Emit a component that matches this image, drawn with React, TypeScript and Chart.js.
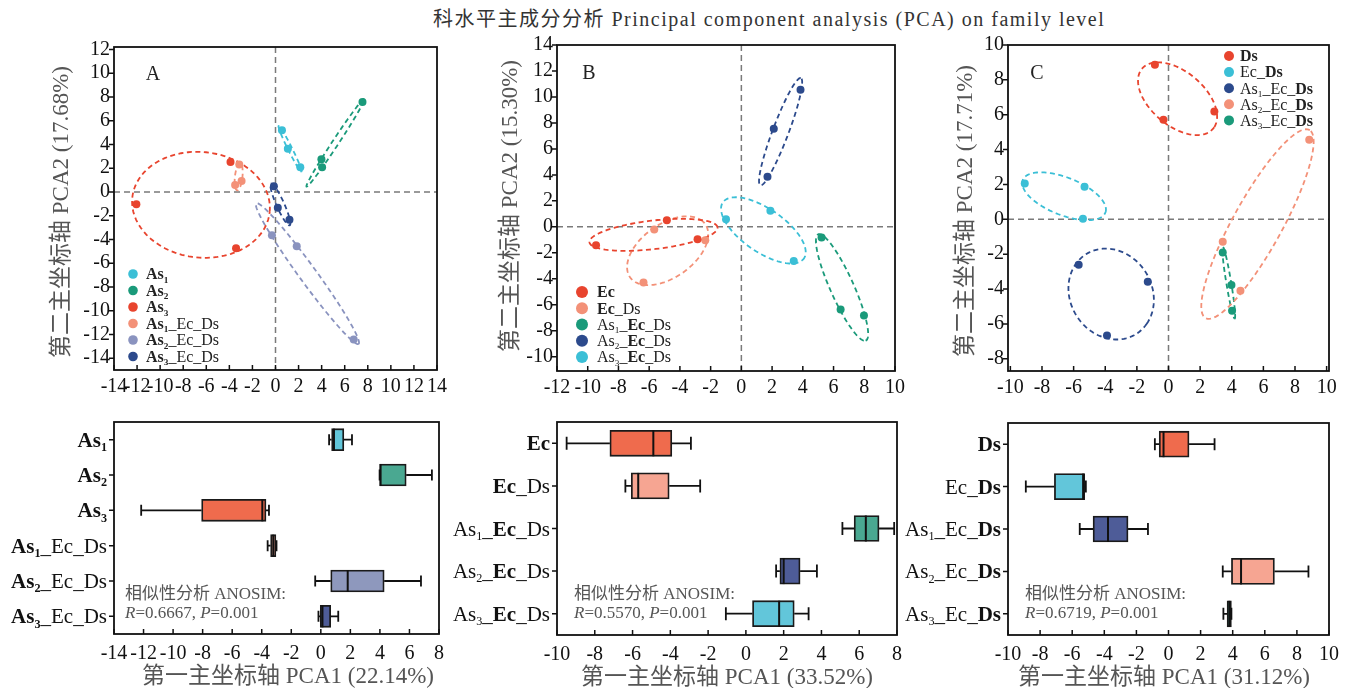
import React, { useEffect, useRef } from 'react';
import { Chart, registerables } from 'chart.js';
Chart.register(...registerables);

const FONT = '"Liberation Serif", "Times New Roman", "Noto Sans CJK SC", serif';

// ---------------- text ----------------
const mainTitle = '科水平主成分分析 Principal component analysis (PCA) on family level';
const yTitleA = '第二主坐标轴 PCA2 (17.68%)';
const yTitleB = '第二主坐标轴 PCA2 (15.30%)';
const yTitleC = '第二主坐标轴 PCA2 (17.71%)';
const xTitleA = '第一主坐标轴 PCA1 (22.14%)';
const xTitleB = '第一主坐标轴 PCA1 (33.52%)';
const xTitleC = '第一主坐标轴 PCA1 (31.12%)';
const anosimA = ['相似性分析 ANOSIM:', '^R^=0.6667, ^P^=0.001'];
const anosimB = ['相似性分析 ANOSIM:', '^R^=0.5570, ^P^=0.001'];
const anosimC = ['相似性分析 ANOSIM:', '^R^=0.6719, ^P^=0.001'];

// group names (* bold, ~ subscript)
const groupsA = ['*As~1~*', '*As~2~*', '*As~3~*', '*As~1~*_Ec_Ds', '*As~2~*_Ec_Ds', '*As~3~*_Ec_Ds'];
const groupsB = ['*Ec*', '*Ec*_Ds', 'As~1~_*Ec*_Ds', 'As~2~_*Ec*_Ds', 'As~3~_*Ec*_Ds'];
const groupsC = ['*Ds*', 'Ec_*Ds*', 'As~1~_Ec_*Ds*', 'As~2~_Ec_*Ds*', 'As~3~_Ec_*Ds*'];

// ---------------- PCA scores ----------------
const pcaA_X = [
  [0.56, 1.07, 2.15],
  [7.54, 3.98, 4.04],
  [-3.9, -12.06, -3.42],
  [-3.14, -3.5, -2.94],
  [-0.31, 1.84, 6.78],
  [-0.14, 0.2, 1.21],
];
const pcaA_Y = [
  [5.19, 3.63, 2.07],
  [7.57, 2.75, 2.07],
  [2.52, -1.05, -4.74],
  [2.3, 0.57, 0.91],
  [-3.66, -4.57, -12.43],
  [0.48, -1.33, -2.35],
];
const pcaB_X = [
  [-4.85, -2.85, -9.46],
  [-5.67, -2.35, -6.37],
  [5.22, 6.46, 7.98],
  [3.85, 2.11, 1.7],
  [-1.0, 1.89, 3.41],
];
const pcaB_Y = [
  [0.51, -0.95, -1.41],
  [-0.21, -1.03, -4.28],
  [-0.82, -6.36, -6.82],
  [10.56, 7.56, 3.85],
  [0.59, 1.23, -2.64],
];
const pcaC_X = [
  [-0.86, -0.32, 2.9],
  [-9.09, -5.31, -5.41],
  [-5.68, -1.31, -3.89],
  [3.43, 4.55, 8.9],
  [3.43, 3.98, 4.02],
];
const pcaC_Y = [
  [8.86, 5.71, 6.19],
  [2.06, 1.87, 0.04],
  [-2.61, -3.58, -6.67],
  [-1.28, -4.1, 4.57],
  [-1.9, -3.77, -5.24],
];

// ---------------- box plot stats (PCA1) ----------------
const boxA_min = [0.56, 3.98, -12.16, -3.6, -0.38, -0.16];
const boxA_q1 = [0.73, 3.99, -8.07, -3.4, 0.67, -0.04];
const boxA_med = [0.89, 4.04, -3.96, -3.22, 1.82, 0.11];
const boxA_q3 = [1.56, 5.78, -3.71, -3.04, 4.29, 0.67];
const boxA_max = [2.11, 7.52, -3.51, -3.0, 6.78, 1.18];

const boxB_min = [-9.49, -6.38, 5.11, 1.6, -1.06];
const boxB_q1 = [-7.2, -6.07, 5.73, 1.8, 0.35];
const boxB_med = [-4.9, -5.7, 6.35, 2.0, 1.76];
const boxB_q3 = [-3.92, -4.06, 7.05, 2.87, 2.56];
const boxB_max = [-2.91, -2.42, 7.85, 3.76, 3.32];

const boxC_min = [-0.85, -8.89, -5.53, 3.38, 3.42];
const boxC_q1 = [-0.58, -7.11, -4.7, 3.92, 3.65];
const boxC_med = [-0.31, -5.32, -3.77, 4.52, 3.79];
const boxC_q3 = [1.28, -5.22, -2.52, 6.6, 3.92];
const boxC_max = [2.87, -5.15, -1.28, 8.72, 3.92];

// ---------------- ticks ----------------
const scatterA_xTicks = [-14, -12, -10, -8, -6, -4, -2, 0, 2, 4, 6, 8, 10, 12, 14];
const scatterA_yTicks = [-14, -12, -10, -8, -6, -4, -2, 0, 2, 4, 6, 8, 10, 12];
const scatterB_xTicks = [-12, -10, -8, -6, -4, -2, 0, 2, 4, 6, 8, 10];
const scatterB_yTicks = [-10, -8, -6, -4, -2, 0, 2, 4, 6, 8, 10, 12, 14];
const scatterC_xTicks = [-10, -8, -6, -4, -2, 0, 2, 4, 6, 8, 10];
const scatterC_yTicks = [-8, -6, -4, -2, 0, 2, 4, 6, 8, 10];
const boxA_xTicks = [-14, -12, -10, -8, -6, -4, -2, 0, 2, 4, 6, 8];
const boxB_xTicks = [-10, -8, -6, -4, -2, 0, 2, 4, 6, 8];
const boxC_xTicks = [-10, -8, -6, -4, -2, 0, 2, 4, 6, 8, 10];

// ---------------- colours ----------------
const CYAN = '#3bbfd6', TEAL = '#1a9a7a', RED = '#e8442e', SALMON = '#f39178', LAV = '#8a93bf', NAVY = '#2c4a8c';
const BCYAN = '#62c6da', BTEAL = '#4aa891', BRED = '#ef6b4d', BSALMON = '#f6a592', BLAV = '#8e98bd', BNAVY = '#4e5c98';
const colorsA = [CYAN, TEAL, RED, SALMON, LAV, NAVY];
const colorsB = [RED, SALMON, TEAL, NAVY, CYAN];
const colorsC = [RED, CYAN, NAVY, SALMON, TEAL];
const boxColorsA = [BCYAN, BTEAL, BRED, BSALMON, BLAV, BNAVY];
const boxColorsB = [BRED, BSALMON, BTEAL, BNAVY, BCYAN];
const boxColorsC = [BRED, BCYAN, BNAVY, BSALMON, BTEAL];

const ELLIPSE_K = 1.23;

// ---------------- helpers ----------------
type Seg = { t: string; bold: boolean; sub: boolean; it: boolean };
function parseRich(s: string): Seg[] {
  const segs: Seg[] = [];
  let bold = false, sub = false, it = false, cur = '';
  const push = () => { if (cur) segs.push({ t: cur, bold, sub, it }); cur = ''; };
  for (const ch of s) {
    if (ch === '*') { push(); bold = !bold; }
    else if (ch === '~') { push(); sub = !sub; }
    else if (ch === '^') { push(); it = !it; }
    else cur += ch;
  }
  push();
  return segs;
}
const plain = (s: string) => s.replace(/[*~^]/g, '');
function segFont(g: Seg, size: number) {
  const sz = g.sub ? size * 0.58 : size;
  return `${g.it ? 'italic ' : ''}${g.bold ? 'bold ' : ''}${sz}px ${FONT}`;
}
function drawRich(ctx: CanvasRenderingContext2D, s: string, x: number, y: number, size: number, align: string, color: string) {
  const segs = parseRich(s);
  ctx.save();
  ctx.fillStyle = color;
  ctx.textBaseline = 'alphabetic';
  ctx.textAlign = 'left';
  let w = 0;
  for (const g of segs) { ctx.font = segFont(g, size); w += ctx.measureText(g.t).width; }
  let cx = align === 'right' ? x - w : align === 'center' ? x - w / 2 : x;
  for (const g of segs) {
    ctx.font = segFont(g, size);
    ctx.fillText(g.t, cx, g.sub ? y + size * 0.2 : y);
    cx += ctx.measureText(g.t).width;
  }
  ctx.restore();
}

function ellipsePoints(xs: number[], ys: number[], k: number) {
  const n = xs.length;
  const mx = xs.reduce((a, b) => a + b, 0) / n;
  const my = ys.reduce((a, b) => a + b, 0) / n;
  let a = 0, b = 0, c = 0;
  for (let i = 0; i < n; i++) {
    const dx = xs[i] - mx, dy = ys[i] - my;
    a += dx * dx; b += dx * dy; c += dy * dy;
  }
  a /= n - 1; b /= n - 1; c /= n - 1;
  const tr = (a + c) / 2;
  const dd = Math.sqrt(((a - c) / 2) ** 2 + b * b);
  const l1 = tr + dd, l2 = Math.max(tr - dd, 0);
  const th = 0.5 * Math.atan2(2 * b, a - c);
  const r1 = k * Math.sqrt(l1), r2 = k * Math.sqrt(l2);
  const pts: { x: number; y: number }[] = [];
  const N = 120;
  for (let i = 0; i <= N; i++) {
    const t = (i / N) * 2 * Math.PI;
    const ct = Math.cos(t), st = Math.sin(t);
    pts.push({
      x: mx + r1 * ct * Math.cos(th) - r2 * st * Math.sin(th),
      y: my + r1 * ct * Math.sin(th) + r2 * st * Math.cos(th),
    });
  }
  return pts;
}

type Rect = { cx: number; cy: number; cw: number; ch: number; l: number; t: number; r: number; b: number };
const Y_W = 50, X_H = 30;
function padFor(R: Rect) {
  return { left: R.l - R.cx - Y_W, top: R.t - R.cy, right: R.cx + R.cw - R.r, bottom: R.cy + R.ch - R.b - X_H };
}

// ---------------- layout ----------------
const rectSA: Rect = { cx: 0, cy: 28, cw: 452, ch: 380, l: 114, t: 47, r: 444, b: 370 };
const rectSB: Rect = { cx: 448, cy: 28, cw: 462, ch: 380, l: 557, t: 45, r: 896, b: 371 };
const rectSC: Rect = { cx: 900, cy: 28, cw: 459, ch: 380, l: 1008, t: 45, r: 1329, b: 371 };
const rectBA: Rect = { cx: 0, cy: 400, cw: 452, ch: 288, l: 114, t: 422, r: 444, b: 634 };
const rectBB: Rect = { cx: 448, cy: 400, cw: 462, ch: 288, l: 557, t: 422, r: 897, b: 635 };
const rectBC: Rect = { cx: 900, cy: 400, cw: 459, ch: 288, l: 1008, t: 423, r: 1329, b: 635 };

const tickFont = { family: FONT, size: 20 };
const TITLE_SIZE = 23;

function buildScatter(canvas: HTMLCanvasElement, p: any) {
  const datasets: any[] = [];
  p.X.forEach((xs: number[], i: number) => {
    datasets.push({
      data: xs.map((x, j) => ({ x, y: p.Y[i][j] })),
      showLine: false, pointRadius: 4, pointHoverRadius: 4,
      pointBackgroundColor: p.colors[i], pointBorderWidth: 0, backgroundColor: p.colors[i], order: 0,
    });
    datasets.push({
      data: ellipsePoints(xs, p.Y[i], ELLIPSE_K),
      showLine: true, borderColor: p.colors[i], borderWidth: 1.8, borderDash: [5, 3.5],
      pointRadius: 0, pointHoverRadius: 0, fill: false, tension: 0, order: 1,
    });
  });
  const R: Rect = p.rect;
  const decor = {
    id: 'decorScatter',
    beforeDatasetsDraw(chart: any) {
      const { ctx, chartArea: ca } = chart;
      const xs = chart.scales.x, ys = chart.scales.y;
      const x0 = xs.getPixelForValue(0), y0 = ys.getPixelForValue(0);
      ctx.save();
      ctx.strokeStyle = '#7a7a7a'; ctx.lineWidth = 1.5; ctx.setLineDash([6, 4]);
      ctx.beginPath();
      ctx.moveTo(x0, ca.top); ctx.lineTo(x0, ca.bottom);
      ctx.moveTo(ca.left, y0); ctx.lineTo(ca.right, y0);
      ctx.stroke();
      ctx.restore();
    },
    afterDraw(chart: any) {
      const { ctx, chartArea: ca } = chart;
      const xs = chart.scales.x, ys = chart.scales.y;
      ctx.save();
      ctx.setLineDash([]);
      ctx.strokeStyle = '#111'; ctx.lineWidth = 1.5;
      ctx.beginPath();
      xs.ticks.forEach((t: any) => { const px = xs.getPixelForValue(t.value); ctx.moveTo(px, ca.bottom); ctx.lineTo(px, ca.bottom - 5); });
      ys.ticks.forEach((t: any) => { const py = ys.getPixelForValue(t.value); ctx.moveTo(ca.left, py); ctx.lineTo(ca.left - 5, py); });
      ctx.stroke();
      ctx.lineWidth = 1.8;
      ctx.strokeRect(ca.left, ca.top, ca.right - ca.left, ca.bottom - ca.top);
      ctx.fillStyle = '#222'; ctx.font = `20px ${FONT}`; ctx.textAlign = 'center'; ctx.textBaseline = 'alphabetic';
      ctx.fillText(p.letter, ca.left + p.letterDX, ca.top + p.letterDY);
      p.labels.forEach((lab: string, i: number) => {
        const cy = ca.top + p.legDY + i * p.legStep;
        ctx.beginPath(); ctx.fillStyle = p.colors[i];
        ctx.arc(ca.left + p.legDX, cy, p.legR, 0, Math.PI * 2); ctx.fill();
        drawRich(ctx, lab, ca.left + p.legTextDX, cy + 5.3, 16, 'left', '#222');
      });
      ctx.save();
      ctx.translate(p.yTitleX - R.cx, p.yTitleY - R.cy);
      ctx.rotate(-Math.PI / 2);
      ctx.fillStyle = '#555'; ctx.font = `${TITLE_SIZE}px ${FONT}`; ctx.textAlign = 'center'; ctx.textBaseline = 'middle';
      ctx.fillText(p.yTitle, 0, 0);
      ctx.restore();
      ctx.restore();
    },
  };
  return new Chart(canvas, {
    type: 'scatter',
    data: { datasets },
    options: {
      animation: false, responsive: false, events: [],
      layout: { padding: padFor(R), autoPadding: false } as any,
      plugins: { legend: { display: false }, tooltip: { enabled: false } },
      scales: {
        x: {
          type: 'linear', min: p.xMin, max: p.xMax,
          afterBuildTicks: (s: any) => { s.ticks = p.xTicks.map((v: number) => ({ value: v })); },
          afterFit: (s: any) => { s.height = X_H; },
          ticks: { font: tickFont, color: '#111', padding: 5, autoSkip: false, maxRotation: 0, callback: (v: any) => String(v) },
          grid: { display: false, drawTicks: false }, border: { display: false },
        },
        y: {
          type: 'linear', min: p.yMin, max: p.yMax,
          afterBuildTicks: (s: any) => { s.ticks = p.yTicks.map((v: number) => ({ value: v })); },
          afterFit: (s: any) => { s.width = Y_W; },
          ticks: { font: tickFont, color: '#111', padding: 4, autoSkip: false, callback: (v: any) => String(v) },
          grid: { display: false, drawTicks: false }, border: { display: false },
        },
      },
    } as any,
    plugins: [decor],
  });
}

function buildBox(canvas: HTMLCanvasElement, p: any) {
  const R: Rect = p.rect;
  const decor = {
    id: 'decorBox',
    afterDatasetsDraw(chart: any) {
      const { ctx } = chart;
      const xs = chart.scales.x, ys = chart.scales.y;
      ctx.save();
      ctx.strokeStyle = '#111'; ctx.setLineDash([]);
      p.min.forEach((mn: number, i: number) => {
        const yc = ys.getPixelForValue(i);
        const pMin = xs.getPixelForValue(mn), pQ1 = xs.getPixelForValue(p.q1[i]);
        const pQ3 = xs.getPixelForValue(p.q3[i]), pMax = xs.getPixelForValue(p.max[i]);
        const pMed = xs.getPixelForValue(p.med[i]);
        ctx.lineWidth = 1.8;
        ctx.beginPath();
        ctx.moveTo(pMin, yc); ctx.lineTo(pQ1, yc);
        ctx.moveTo(pQ3, yc); ctx.lineTo(pMax, yc);
        ctx.moveTo(pMin, yc - p.cap / 2); ctx.lineTo(pMin, yc + p.cap / 2);
        ctx.moveTo(pMax, yc - p.cap / 2); ctx.lineTo(pMax, yc + p.cap / 2);
        ctx.stroke();
        ctx.lineWidth = 2;
        ctx.beginPath();
        ctx.moveTo(pMed, yc - p.thick / 2); ctx.lineTo(pMed, yc + p.thick / 2);
        ctx.stroke();
      });
      ctx.restore();
    },
    afterDraw(chart: any) {
      const { ctx, chartArea: ca } = chart;
      const xs = chart.scales.x, ys = chart.scales.y;
      ctx.save();
      ctx.setLineDash([]);
      ctx.strokeStyle = '#111'; ctx.lineWidth = 1.5;
      ctx.beginPath();
      xs.ticks.forEach((t: any) => { const px = xs.getPixelForValue(t.value); ctx.moveTo(px, ca.bottom); ctx.lineTo(px, ca.bottom - 5); });
      p.labels.forEach((_: string, i: number) => { const py = ys.getPixelForValue(i); ctx.moveTo(ca.left, py); ctx.lineTo(ca.left - 5, py); });
      ctx.stroke();
      ctx.lineWidth = 1.8;
      ctx.strokeRect(ca.left, ca.top, ca.right - ca.left, ca.bottom - ca.top);
      p.labels.forEach((lab: string, i: number) => {
        const py = ys.getPixelForValue(i);
        drawRich(ctx, lab, ca.left - 7, py + 7, 21, 'right', '#111');
      });
      drawRich(ctx, p.anosim[0], ca.left + p.anDX, ca.top + p.anDY, 17, 'left', '#555');
      drawRich(ctx, p.anosim[1], ca.left + p.anDX, ca.top + p.anDY + 19, 17, 'left', '#555');
      ctx.fillStyle = '#555'; ctx.font = `${TITLE_SIZE}px ${FONT}`; ctx.textAlign = 'center'; ctx.textBaseline = 'alphabetic';
      ctx.fillText(p.xTitle, p.xTitleX - R.cx, ca.bottom + 49);
      ctx.restore();
    },
  };
  return new Chart(canvas, {
    type: 'bar',
    data: {
      labels: p.labels.map(plain),
      datasets: [{
        data: p.q1.map((q: number, i: number) => [q, p.q3[i]]),
        backgroundColor: p.colors, borderColor: '#1a1a1a', borderWidth: 1.8, borderSkipped: false,
        barThickness: p.thick,
      }],
    },
    options: {
      indexAxis: 'y',
      animation: false, responsive: false, events: [],
      layout: { padding: padFor(R), autoPadding: false } as any,
      plugins: { legend: { display: false }, tooltip: { enabled: false } },
      scales: {
        x: {
          type: 'linear', min: p.xMin, max: p.xMax,
          afterBuildTicks: (s: any) => { s.ticks = p.xTicks.map((v: number) => ({ value: v })); },
          afterFit: (s: any) => { s.height = X_H; },
          ticks: { font: tickFont, color: '#111', padding: 8, autoSkip: false, maxRotation: 0, callback: (v: any) => String(v) },
          grid: { display: false, drawTicks: false }, border: { display: false },
        },
        y: {
          type: 'category',
          afterFit: (s: any) => { s.width = Y_W; },
          ticks: { display: false },
          grid: { display: false, drawTicks: false }, border: { display: false },
        },
      },
    } as any,
    plugins: [decor],
  });
}

const scatterPanels = [
  { X: pcaA_X, Y: pcaA_Y, colors: colorsA, labels: groupsA, xMin: -14, xMax: 14, yMin: -15, yMax: 12.2,
    xTicks: scatterA_xTicks, yTicks: scatterA_yTicks, letter: 'A', yTitle: yTitleA, rect: rectSA,
    letterDX: 39, letterDY: 33, legDX: 19, legDY: 227, legStep: 16.5, legR: 4.8, legTextDX: 32, yTitleX: 62, yTitleY: 212 },
  { X: pcaB_X, Y: pcaB_Y, colors: colorsB, labels: groupsB, xMin: -12, xMax: 10, yMin: -11.1, yMax: 14,
    xTicks: scatterB_xTicks, yTicks: scatterB_yTicks, letter: 'B', yTitle: yTitleB, rect: rectSB,
    letterDX: 32, letterDY: 34, legDX: 25, legDY: 247, legStep: 16.25, legR: 6, legTextDX: 40, yTitleX: 511, yTitleY: 206 },
  { X: pcaC_X, Y: pcaC_Y, colors: colorsC, labels: groupsC, xMin: -10.15, xMax: 10.15, yMin: -8.7, yMax: 10,
    xTicks: scatterC_xTicks, yTicks: scatterC_yTicks, letter: 'C', yTitle: yTitleC, rect: rectSC,
    letterDX: 29, letterDY: 34, legDX: 221, legDY: 11, legStep: 16.1, legR: 5, legTextDX: 232, yTitleX: 966, yTitleY: 211 },
];

const boxPanels = [
  { labels: groupsA, colors: boxColorsA, min: boxA_min, q1: boxA_q1, med: boxA_med, q3: boxA_q3, max: boxA_max,
    xMin: -14, xMax: 8, xTicks: boxA_xTicks, xTitle: xTitleA, anosim: anosimA, rect: rectBA,
    thick: 22, cap: 11, anDX: 11, anDY: 177, xTitleX: 288 },
  { labels: groupsB, colors: boxColorsB, min: boxB_min, q1: boxB_q1, med: boxB_med, q3: boxB_q3, max: boxB_max,
    xMin: -10, xMax: 8, xTicks: boxB_xTicks, xTitle: xTitleB, anosim: anosimB, rect: rectBB,
    thick: 26, cap: 13, anDX: 17, anDY: 177, xTitleX: 727 },
  { labels: groupsC, colors: boxColorsC, min: boxC_min, q1: boxC_q1, med: boxC_med, q3: boxC_q3, max: boxC_max,
    xMin: -10, xMax: 10, xTicks: boxC_xTicks, xTitle: xTitleC, anosim: anosimC, rect: rectBC,
    thick: 26, cap: 12, anDX: 17, anDY: 176, xTitleX: 1164 },
];

export default function App() {
  const s0 = useRef<HTMLCanvasElement>(null);
  const s1 = useRef<HTMLCanvasElement>(null);
  const s2 = useRef<HTMLCanvasElement>(null);
  const b0 = useRef<HTMLCanvasElement>(null);
  const b1 = useRef<HTMLCanvasElement>(null);
  const b2 = useRef<HTMLCanvasElement>(null);
  const sRefs = [s0, s1, s2];
  const bRefs = [b0, b1, b2];

  useEffect(() => {
    const charts: Chart[] = [];
    scatterPanels.forEach((p, i) => { const c = sRefs[i].current; if (c) charts.push(buildScatter(c, p)); });
    boxPanels.forEach((p, i) => { const c = bRefs[i].current; if (c) charts.push(buildBox(c, p)); });
    return () => charts.forEach((c) => c.destroy());
  }, []);

  const canvasStyle = (R: Rect): React.CSSProperties => ({ position: 'absolute', left: R.cx, top: R.cy, width: R.cw, height: R.ch });

  return (
    <div style={{ position: 'fixed', left: 0, top: 0, width: 1359, height: 688, background: '#fff', overflow: 'hidden' }}>
      <div style={{ position: 'absolute', left: 433, top: 8, font: `20px ${FONT}`, letterSpacing: '1.5px', color: '#333', whiteSpace: 'nowrap', lineHeight: '22px' }}>
        {mainTitle}
      </div>
      {scatterPanels.map((p, i) => (
        <canvas key={'s' + i} ref={sRefs[i]} width={p.rect.cw} height={p.rect.ch} style={canvasStyle(p.rect)} />
      ))}
      {boxPanels.map((p, i) => (
        <canvas key={'b' + i} ref={bRefs[i]} width={p.rect.cw} height={p.rect.ch} style={canvasStyle(p.rect)} />
      ))}
    </div>
  );
}
